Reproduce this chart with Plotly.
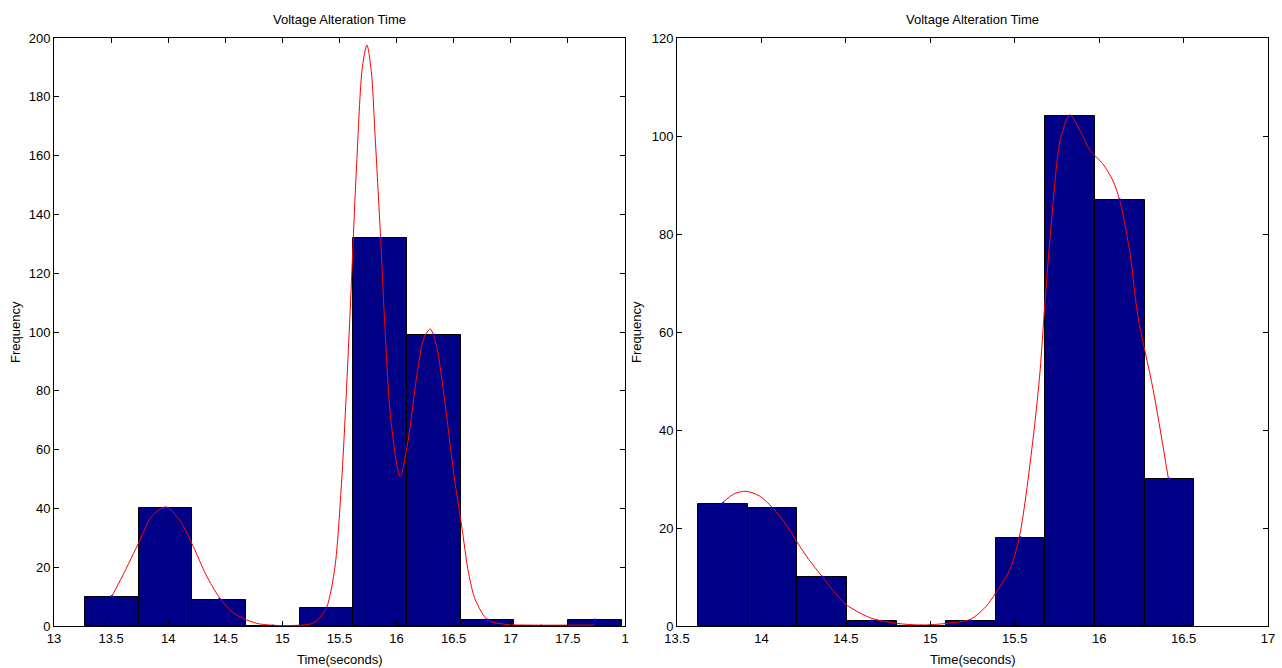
import plotly.graph_objects as go

# ---------------- data ----------------
# Left histogram
left_centers = [13.507, 13.977, 14.447, 14.917, 15.387, 15.857, 16.327, 16.797, 17.267, 17.737]
left_counts = [10, 40, 9, 0, 6, 132, 99, 2, 0, 2]
left_bin_width = 0.470

left_curve_x = [13.505, 13.60, 13.75, 13.85, 13.98, 14.10, 14.22, 14.33, 14.45, 14.57, 14.69,
                14.80, 14.95, 15.10, 15.20, 15.27, 15.33, 15.39, 15.46, 15.52, 15.585, 15.65,
                15.70, 15.74, 15.78, 15.81, 15.86, 15.90, 15.95, 16.03, 16.10, 16.18, 16.24,
                16.295, 16.35, 16.42, 16.50, 16.57, 16.63, 16.69, 16.80, 16.95, 17.20, 17.50, 17.73]
left_curve_y = [10, 17, 29, 37, 40.5, 36, 27, 17.5, 9.6, 4.5, 2,
                0.7, 0.2, 0.2, 0.4, 1, 3, 6.6, 20, 50, 100, 157,
                190, 197.6, 188, 168, 132, 100, 70, 50.8, 63, 86, 98,
                101, 95, 77, 52, 34, 18, 8.8, 2, 0.6, 0.3, 0.3, 0.3]

# Right histogram
right_centers = [13.773, 14.066, 14.360, 14.654, 14.947, 15.241, 15.535, 15.828, 16.122, 16.416]
right_counts = [25, 24, 10, 1, 0, 1, 18, 104, 87, 30]
right_bin_width = 0.2937

right_curve_x = [13.77, 13.84, 13.91, 13.99, 14.067, 14.14, 14.21, 14.28, 14.357, 14.43, 14.50,
                 14.65, 14.80, 14.95, 15.10, 15.24, 15.33, 15.387, 15.47, 15.53, 15.61, 15.65,
                 15.68, 15.72, 15.77, 15.827, 15.886, 15.945, 16.02, 16.08, 16.12, 16.18,
                 16.23, 16.32, 16.41]
right_curve_y = [25.2, 27.0, 27.5, 26.5, 24.1, 21.0, 17.2, 13.6, 10.2, 7.0, 4.4,
                 1.6, 0.55, 0.2, 0.55, 1.4, 4.0, 6.7, 11.4, 18.6, 38.6, 52.0,
                 66.5, 83.5, 99.2, 104.3, 101.2, 97.1, 94.4, 91.0, 87.1, 76.7,
                 63.1, 48.2, 30.1]

left_xticks = [13, 13.5, 14, 14.5, 15, 15.5, 16, 16.5, 17, 17.5, 18]
left_xticktext = ["13", "13.5", "14", "14.5", "15", "15.5", "16", "16.5", "17", "17.5", "1"]
left_yticks = [0, 20, 40, 60, 80, 100, 120, 140, 160, 180, 200]
right_xticks = [13.5, 14, 14.5, 15, 15.5, 16, 16.5, 17]
right_xticktext = ["13.5", "14", "14.5", "15", "15.5", "16", "16.5", "17"]
right_yticks = [0, 20, 40, 60, 80, 100, 120]

title_text = "Voltage Alteration Time"
xlabel_text = "Time(seconds)"
ylabel_text = "Frequency"

# ---------------- figure ----------------
FONT = "Liberation Sans Narrow, Arial Narrow, Liberation Sans, Arial, sans-serif"
BAR_COLOR = "#000086"

fig = go.Figure()

fig.add_trace(go.Bar(x=left_centers, y=left_counts, width=left_bin_width,
                     marker=dict(color=BAR_COLOR, line=dict(color="black", width=1)),
                     xaxis="x", yaxis="y", showlegend=False))
fig.add_trace(go.Scatter(x=left_curve_x, y=left_curve_y, mode="lines",
                         line=dict(color="red", width=1, shape="spline", smoothing=0.8),
                         xaxis="x", yaxis="y", showlegend=False))
fig.add_trace(go.Scatter(x=left_centers, y=left_counts, mode="markers",
                         marker=dict(color="blue", size=3),
                         xaxis="x", yaxis="y", showlegend=False))

fig.add_trace(go.Bar(x=right_centers, y=right_counts, width=right_bin_width,
                     marker=dict(color=BAR_COLOR, line=dict(color="black", width=1)),
                     xaxis="x2", yaxis="y2", showlegend=False))
fig.add_trace(go.Scatter(x=right_curve_x, y=right_curve_y, mode="lines",
                         line=dict(color="red", width=1, shape="spline", smoothing=0.8),
                         xaxis="x2", yaxis="y2", showlegend=False))
fig.add_trace(go.Scatter(x=right_centers, y=right_counts, mode="markers",
                         marker=dict(color="blue", size=3),
                         xaxis="x2", yaxis="y2", showlegend=False))

W, H = 1282, 668
ydom = [(H - 626) / H, (H - 38) / H]

axis_common = dict(showline=True, linecolor="black", linewidth=1, mirror="ticks",
                   ticks="inside", ticklen=5, tickcolor="black", showgrid=False,
                   zeroline=False, tickfont=dict(family=FONT, size=13, color="black"))

fig.update_layout(
    width=W, height=H,
    margin=dict(l=0, r=0, t=0, b=0, autoexpand=False),
    paper_bgcolor="white", plot_bgcolor="white",
    bargap=0,
    xaxis=dict(domain=[54 / W, 625 / W], range=[13, 18], tickvals=left_xticks,
               ticktext=left_xticktext, anchor="y", **axis_common),
    yaxis=dict(domain=ydom, range=[0, 200], tickvals=left_yticks, anchor="x",
               **axis_common),
    xaxis2=dict(domain=[677 / W, 1268 / W], range=[13.5, 17], tickvals=right_xticks,
                ticktext=right_xticktext, anchor="y2", **axis_common),
    yaxis2=dict(domain=ydom, range=[0, 120], tickvals=right_yticks, anchor="x2",
                **axis_common),
)

tfont = dict(family=FONT, size=13, color="black")
annots = []
for cx, ycx in [((54 + 625) / 2 / W, 15 / W), ((677 + 1268) / 2 / W, 636 / W)]:
    annots.append(dict(text=title_text, x=cx, y=(H - 19) / H, xref="paper", yref="paper",
                       showarrow=False, font=tfont, xanchor="center", yanchor="middle"))
    annots.append(dict(text=xlabel_text, x=cx, y=(H - 659) / H, xref="paper", yref="paper",
                       showarrow=False, font=tfont, xanchor="center", yanchor="middle"))
    annots.append(dict(text=ylabel_text, x=ycx, y=(ydom[0] + ydom[1]) / 2, xref="paper",
                       yref="paper", showarrow=False, font=tfont, textangle=-90,
                       xanchor="center", yanchor="middle"))
fig.update_layout(annotations=annots)

fig.write_html("out.html", config={"displayModeBar": False},
               post_script="document.body.style.margin='0';document.body.style.overflow='hidden';")
